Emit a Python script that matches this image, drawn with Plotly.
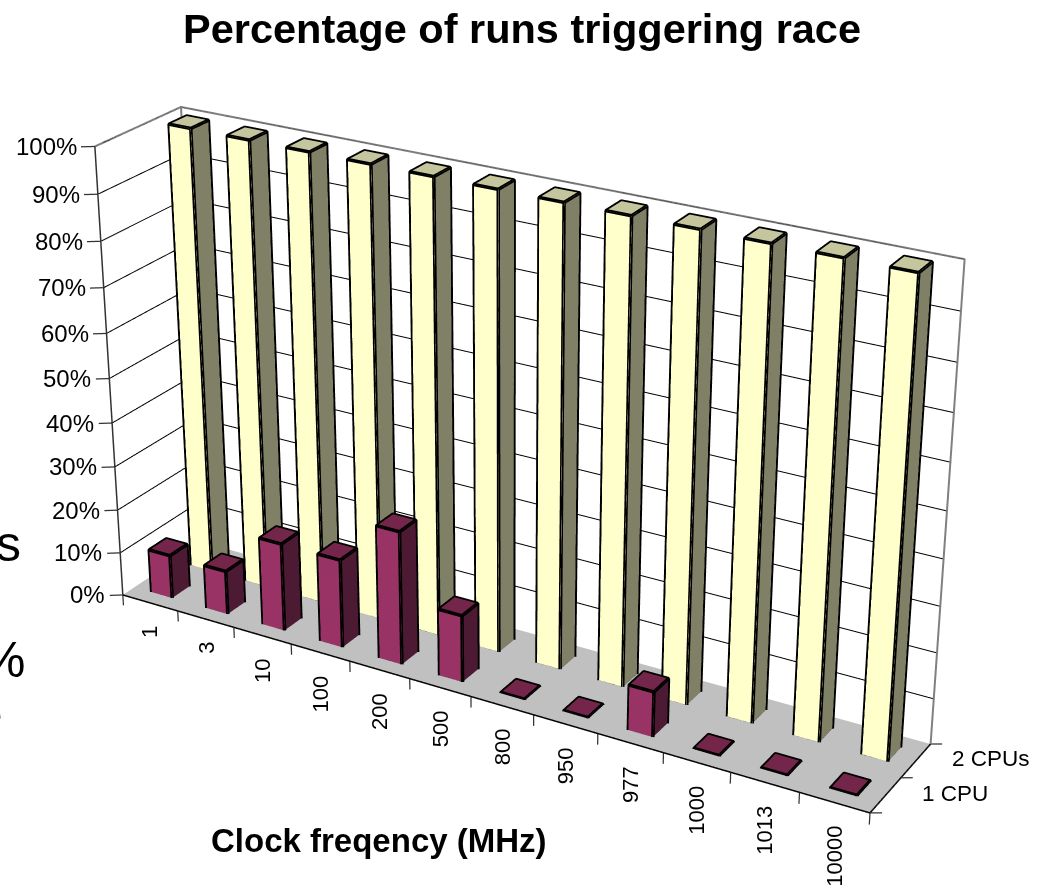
import numpy as np
import plotly.graph_objects as go

# ---- data ----
categories = ["1", "3", "10", "100", "200", "500", "800", "950", "977", "1000", "1013", "10000"]
series_names = ["1 CPU", "2 CPUs"]
cpu1_pct = [10, 10, 20, 20, 30, 15, 0, 0, 10, 0, 0, 0]
cpu2_pct = [100] * 12
z_ticks = [0, 10, 20, 30, 40, 50, 60, 70, 80, 90, 100]

# ---- page/scene layout ----
FIG_W, FIG_H = 1061, 2413
LEFT, TOP = -23, -765
BAR_W, BAR_D, FLAT = 0.375, 0.42, 0.15
N = len(categories)
DEPTH = len(series_names)
FONT = "Liberation Sans, Arial, sans-serif"

# box proportions and camera for the plotted region x[0,N], y[0,2], z[0,100]
BASE_ASPECT = np.array([1, 0.1674, 0.5814])
BASE_EYE = np.array([1.5117, -2.595, 1.3816])
# axis ranges leave a little room round that region for the tick marks
RX, RY, RZ = [-0.25, N + 0.25], [-0.16, DEPTH + 0.12], [-3.2, 100.5]
base_ranges = np.array([N, DEPTH, 100.0])
ranges = np.array([RX[1] - RX[0], RY[1] - RY[0], RZ[1] - RZ[0]])
mids = np.array([sum(RX) / 2, sum(RY) / 2, sum(RZ) / 2])
base_mids = np.array([N / 2, DEPTH / 2, 50.0])
aspect = BASE_ASPECT * ranges / base_ranges
offset = BASE_ASPECT * (mids - base_mids) / base_ranges
eye = BASE_EYE - offset
center = -offset

FLAT_LIGHT = dict(ambient=1, diffuse=0, specular=0, roughness=1, fresnel=0)


def bars(values, slot, front, side, top):
    X, Y, Z, I, J, K, C = [], [], [], [], [], [], []
    lx, ly, lz = [], [], []
    for c, v in enumerate(values):
        h = max(v, FLAT)
        x0, x1 = c + .5 - BAR_W / 2, c + .5 + BAR_W / 2
        y0, y1 = slot + .5 - BAR_D / 2, slot + .5 + BAR_D / 2
        vx = [x0, x1, x1, x0, x0, x1, x1, x0]
        vy = [y0, y0, y1, y1, y0, y0, y1, y1]
        vz = [0, 0, 0, 0, h, h, h, h]
        o = len(X)
        X += vx; Y += vy; Z += vz
        faces = [((0, 1, 5), front), ((0, 5, 4), front), ((1, 2, 6), side), ((1, 6, 5), side),
                 ((4, 5, 6), top), ((4, 6, 7), top)]
        for (a, b, d), col in faces:
            I.append(o + a); J.append(o + b); K.append(o + d); C.append(col)
        for path in ([0, 1, 2, 6, 7, 4, 0], [1, 5, 4], [5, 6]):
            lx += [vx[p] for p in path] + [None]
            ly += [vy[p] for p in path] + [None]
            lz += [vz[p] for p in path] + [None]
    mesh = go.Mesh3d(x=X, y=Y, z=Z, i=I, j=J, k=K, facecolor=C, flatshading=True,
                     lighting=FLAT_LIGHT, hoverinfo="skip", showscale=False)
    edges = go.Scatter3d(x=lx, y=ly, z=lz, mode="lines", line=dict(color="black", width=7),
                         hoverinfo="skip", showlegend=False)
    return [mesh, edges]


def polyline(paths, color, width):
    xs, ys, zs = [], [], []
    for path in paths:
        for p in path:
            xs.append(p[0]); ys.append(p[1]); zs.append(p[2])
        xs.append(None); ys.append(None); zs.append(None)
    return go.Scatter3d(x=xs, y=ys, z=zs, mode="lines", line=dict(color=color, width=width),
                        hoverinfo="skip", showlegend=False)


def px(x):
    return (x - LEFT) / FIG_W


def py(y):
    return 1 - (y - TOP) / FIG_H


fig = go.Figure()
fig.add_trace(go.Mesh3d(x=[0, N, N, 0], y=[0, 0, DEPTH, DEPTH], z=[0, 0, 0, 0], i=[0, 0], j=[1, 2], k=[2, 3],
                        color="#C0C0C0", flatshading=True, lighting=FLAT_LIGHT, hoverinfo="skip"))
# gridlines on the two back walls
grid = [[(0, 0, v), (0, DEPTH, v), (N, DEPTH, v)] for v in z_ticks if v > 0]
fig.add_trace(polyline(grid, "black", 2))
# wall outline
fig.add_trace(polyline([[(0, 0, 100), (0, DEPTH, 100), (N, DEPTH, 100), (N, DEPTH, 0)],
                        [(0, DEPTH, 100), (0, DEPTH, 0)]], "#808080", 4))
fig.add_trace(polyline([[(0, 0, 0), (0, 0, 100)]], "#333333", 3))
fig.add_trace(polyline([[(0, 0, 0), (N, 0, 0), (N, DEPTH, 0)]], "black", 3))
# tick marks
ticks = [[(0, 0, v), (-0.157, -0.108, v)] for v in z_ticks]
ticks += [[(c, 0, 0), (c, 0, -2.5)] for c in range(N + 1)]
ticks += [[(N, s, 0), (N + 0.134, s + 0.08, 0)] for s in range(DEPTH + 1)]
fig.add_trace(polyline(ticks, "#333333", 2.5))
for t in bars(cpu2_pct, 1, "#FFFFCC", "#808066", "#C6C69E"):
    fig.add_trace(t)
for t in bars(cpu1_pct, 0, "#993366", "#4D1A33", "#732649"):
    fig.add_trace(t)

scene_ann = []
for v in z_ticks:
    scene_ann.append(dict(x=0, y=0, z=v, text=f"{v}%", showarrow=False, xanchor="right", yanchor="middle",
                          xshift=-16, font=dict(size=24, color="black", family=FONT)))
for c, lab in enumerate(categories):
    scene_ann.append(dict(x=c + .5, y=0, z=0, text=lab, showarrow=False, textangle=-90, xanchor="center",
                          yanchor="top", yshift=-21, font=dict(size=22, color="black", family=FONT)))
for s, lab in enumerate(series_names):
    scene_ann.append(dict(x=N, y=s + .5, z=0, text=lab, showarrow=False, xanchor="left", yanchor="middle",
                          xshift=34, yshift=2, font=dict(size=22.5, color="black", family=FONT)))

hidden_axis = dict(title="", visible=True, showbackground=False, showticklabels=False, zeroline=False,
                   showspikes=False, showline=False, showgrid=False, ticks="")
fig.update_layout(
    width=FIG_W, height=FIG_H, margin=dict(l=0, r=0, t=0, b=0), paper_bgcolor="white", showlegend=False,
    scene=dict(
        domain=dict(x=[0, 1], y=[0, 1]),
        xaxis=dict(range=RX, **hidden_axis),
        yaxis=dict(range=RY, **hidden_axis),
        zaxis=dict(range=RZ, **hidden_axis),
        aspectmode="manual", aspectratio=dict(x=aspect[0], y=aspect[1], z=aspect[2]),
        camera=dict(eye=dict(x=eye[0], y=eye[1], z=eye[2]), center=dict(x=center[0], y=center[1], z=center[2]),
                    up=dict(x=-0.0028, y=0.0044, z=1), projection=dict(type="perspective")),
        annotations=scene_ann,
    ),
    annotations=[
        dict(x=px(521.5), y=py(28), xref="paper", yref="paper", text="<b>Percentage of runs triggering race</b>",
             showarrow=False, yanchor="middle", font=dict(size=41.5, color="black", family=FONT)),
        dict(x=px(379), y=py(840), xref="paper", yref="paper", text="<b>Clock freqency (MHz)</b>",
             showarrow=False, yanchor="middle", font=dict(size=33, color="black", family=FONT)),
        dict(x=px(23), y=py(544), xref="paper", yref="paper", text="s", showarrow=False, xanchor="right",
             yanchor="middle", font=dict(size=50, color="black", family=FONT)),
        dict(x=px(27), y=py(660), xref="paper", yref="paper", text="%", showarrow=False, xanchor="right",
             yanchor="middle", font=dict(size=50, color="black", family=FONT)),
        dict(x=px(4), y=py(715), xref="paper", yref="paper", text="e", showarrow=False, xanchor="right",
             yanchor="middle", font=dict(size=36, color="black", family=FONT)),
    ],
)

shift_js = (
    "document.documentElement.style.overflow='hidden';document.body.style.overflow='hidden';"
    "document.body.style.margin='0';"
    "var gd=document.getElementById('{plot_id}');gd.style.position='absolute';"
    f"gd.style.left='{LEFT}px';gd.style.top='{TOP}px';"
)
fig.write_html("out.html", post_script=shift_js, config=dict(displayModeBar=False, responsive=False))
